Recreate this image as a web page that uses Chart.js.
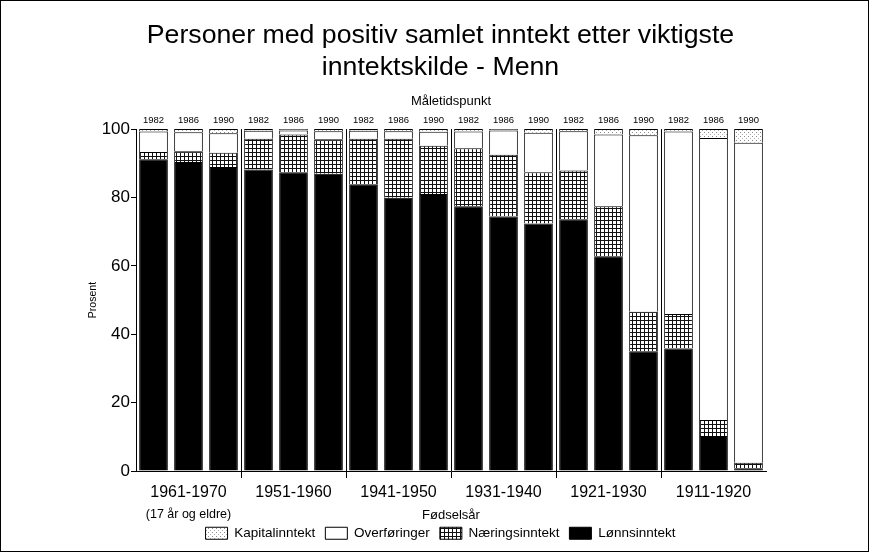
<!DOCTYPE html>
<html>
<head>
<meta charset="utf-8">
<script src="https://cdn.jsdelivr.net/npm/chart.js@4.4.0/dist/chart.umd.min.js"></script>
<style>
  html, body { margin: 0; padding: 0; background: #fff; }
  canvas { display: block; }
</style>
</head>
<body>
<canvas id="c" width="869" height="552"></canvas>
<script>
// ---- Data ----
const cohorts = ['1961-1970', '1951-1960', '1941-1950', '1931-1940', '1921-1930', '1911-1920'];
const years = ['1982', '1986', '1990'];
const cohortNote = '(17 år og eldre)';
const lonnsinntekt   = [91.2, 90.4, 88.9,  88.2, 87.2, 86.9,  83.7, 79.9, 81.0,  77.4, 74.4, 72.4,  73.6, 62.8, 35.0,  35.8, 10.2, 0.8];
const naeringsinntekt = [2.1, 3.1, 4.2,   9.0, 11.2, 10.1,  13.5, 17.3, 14.1,  17.0, 18.1, 15.0,  14.3, 14.6, 11.6,  10.1, 4.7, 1.6];
const overforinger   = [6.0, 5.6, 5.7,   2.3, 1.2, 2.4,    2.3, 2.2, 4.1,    4.9, 7.1, 11.5,   11.5, 21.0, 51.6,  53.4, 82.5, 93.6];
const kapitalinntekt = [0.7, 0.9, 1.2,   0.5, 0.4, 0.6,    0.5, 0.6, 0.8,    0.7, 0.4, 1.1,    0.6, 1.6, 1.8,    0.7, 2.6, 4.0];
const yTicks = [0, 20, 40, 60, 80, 100];

const barLabels = cohorts.flatMap(() => years);

Chart.defaults.font.family = "'Liberation Sans', Arial, Helvetica, sans-serif";
Chart.defaults.color = '#000';

function gridPattern() {
  const c = document.createElement('canvas');
  c.width = 4; c.height = 4;
  const g = c.getContext('2d');
  g.fillStyle = '#fff'; g.fillRect(0, 0, 4, 4);
  g.fillStyle = '#111';
  g.fillRect(0, 0, 4, 1);
  g.fillRect(0, 0, 1, 4);
  return g.createPattern(c, 'repeat');
}
function dotPattern() {
  const c = document.createElement('canvas');
  c.width = 4; c.height = 4;
  const g = c.getContext('2d');
  g.fillStyle = '#fff'; g.fillRect(0, 0, 4, 4);
  g.fillStyle = '#8a8a8a';
  g.fillRect(0, 0, 1, 1);
  g.fillStyle = '#b0b0b0';
  g.fillRect(2, 2, 1, 1);
  return g.createPattern(c, 'repeat');
}

const framePlugin = {
  id: 'frame',
  beforeDraw(chart) {
    const ctx = chart.ctx;
    ctx.save();
    ctx.fillStyle = '#fff';
    ctx.fillRect(0, 0, chart.width, chart.height);
    ctx.restore();
  },
  afterDraw(chart) {
    const ctx = chart.ctx;
    ctx.save();
    ctx.strokeStyle = '#000';
    ctx.lineWidth = 1;
    ctx.strokeRect(0.5, 0.5, chart.width - 1, chart.height - 1);
    // sub-label under the first cohort
    const s = chart.scales.groups;
    ctx.font = "12.5px 'Liberation Sans', Arial, sans-serif";
    ctx.fillStyle = '#000';
    ctx.textAlign = 'center';
    ctx.textBaseline = 'middle';
    ctx.fillText(cohortNote, s.getPixelForTick(0), s.top + 44);
    ctx.restore();
  }
};

const common = { borderColor: '#000', borderWidth: 1, xAxisID: 'x', yAxisID: 'y',
                 categoryPercentage: 1.0, barPercentage: 0.82 };

new Chart(document.getElementById('c'), {
  type: 'bar',
  data: {
    labels: barLabels,
    datasets: [
      Object.assign({ label: 'Lønnsinntekt', data: lonnsinntekt, backgroundColor: '#000' }, common),
      Object.assign({ label: 'Næringsinntekt', data: naeringsinntekt, backgroundColor: gridPattern() }, common),
      Object.assign({ label: 'Overføringer', data: overforinger, backgroundColor: '#fff' }, common),
      Object.assign({ label: 'Kapitalinntekt', data: kapitalinntekt, backgroundColor: dotPattern() }, common)
    ]
  },
  options: {
    responsive: false,
    animation: false,
    layout: { padding: { top: 0, left: 12, right: 0, bottom: 2 } },
    plugins: {
      title: {
        display: true,
        text: ['Personer med positiv samlet inntekt etter viktigste', 'inntektskilde - Menn'],
        font: { size: 26.7, weight: 'normal', lineHeight: 1.2 },
        color: '#000',
        padding: { top: 20, bottom: 0 }
      },
      legend: {
        position: 'bottom',
        reverse: true,
        labels: { boxWidth: 22, boxHeight: 12, font: { size: 13.5 }, color: '#000', padding: 10 }
      },
      tooltip: { enabled: false }
    },
    scales: {
      x: {
        type: 'category',
        position: 'top',
        stacked: true,
        offset: true,
        grid: { display: false, drawTicks: false },
        border: { display: false },
        ticks: { font: { size: 9.5 }, color: '#000', padding: 3, maxRotation: 0, autoSkip: false },
        title: { display: true, text: 'Måletidspunkt', font: { size: 13 }, color: '#000', padding: { top: 10, bottom: 0 } },
        afterFit(s) { s.height = 45; }
      },
      groups: {
        type: 'category',
        axis: 'x',
        position: 'bottom',
        labels: cohorts,
        offset: true,
        grid: {
          offset: true,
          drawOnChartArea: true,
          drawTicks: true,
          tickLength: 7,
          lineWidth: 1,
          color: (ctx) => (ctx.type === 'tick' && ctx.index > 0) ? '#000' : 'rgba(0,0,0,0)'
        },
        border: { display: true, color: '#000', width: 1 },
        ticks: { font: { size: 16 }, color: '#000', padding: 5, maxRotation: 0, autoSkip: false },
        title: { display: true, text: 'Fødselsår', font: { size: 13 }, color: '#000', padding: { top: 0, bottom: -6.5 } },
        afterFit(s) { s.height = 45.5; }
      },
      y: {
        stacked: true,
        min: 0,
        max: 100,
        afterBuildTicks(s) { s.ticks = yTicks.map(v => ({ value: v })); },
        grid: { drawOnChartArea: false, drawTicks: true, tickLength: 5, color: '#000' },
        border: { display: true, color: '#000', width: 1 },
        ticks: { font: { size: 17 }, color: '#000', padding: 1 },
        title: { display: true, text: 'Prosent', font: { size: 10.5 }, color: '#000', padding: { top: 75, bottom: 0 } },
        afterFit(s) { s.width = 124; }
      },
      spacer: {
        type: 'linear',
        axis: 'y',
        position: 'right',
        display: true,
        grid: { display: false, drawTicks: false },
        border: { display: false },
        ticks: { display: false },
        afterFit(s) { s.width = 103; }
      }
    }
  },
  plugins: [framePlugin]
});
</script>
</body>
</html>
